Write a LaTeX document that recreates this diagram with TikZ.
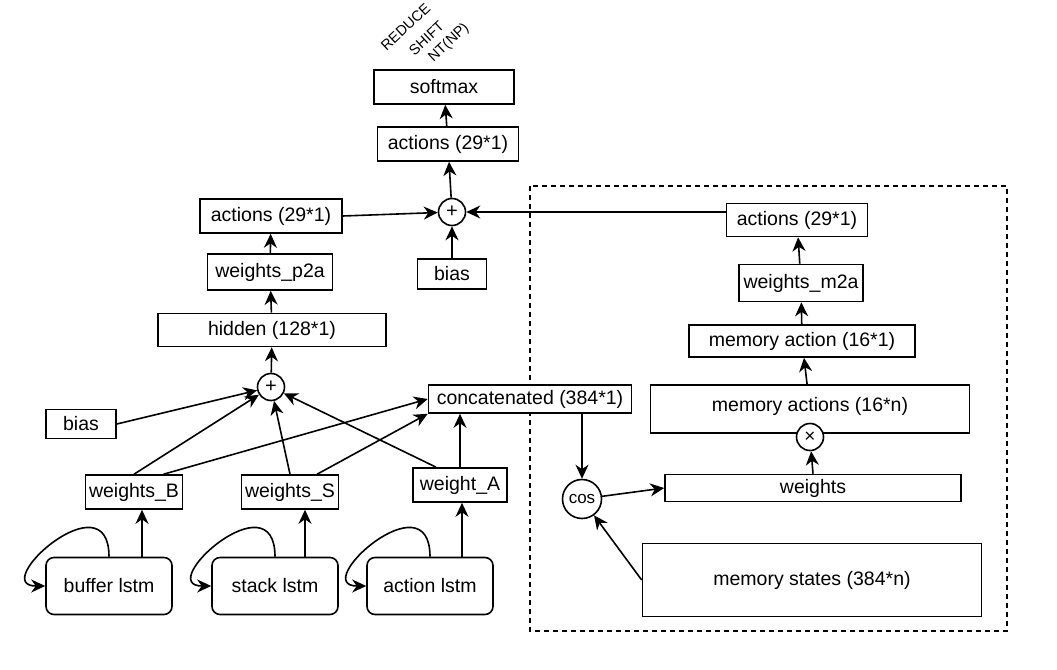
\documentclass[tikz,border=0pt]{standalone}
\usepackage{fontspec}
\setmainfont{Liberation Sans}
\usetikzlibrary{arrows.meta,calc}

\begin{document}
\begin{tikzpicture}[x=1pt,y=-1pt,line width=1.6pt,
  every node/.style={font=\fontsize{19.5}{23}\selectfont},
  blk/.style={draw,fill=white,inner sep=0pt,minimum height=34pt},
  opn/.style={draw,fill=white,circle,inner sep=0pt,font=\fontsize{16}{18}\selectfont},
  lstm/.style={draw,fill=white,rounded corners=8pt,minimum width=126pt,minimum height=57pt,inner sep=0pt},
  arr/.style={-{Stealth[length=14pt,width=13pt,inset=4.5pt]}},
  lbl/.style={font=\fontsize{14.5}{16}\selectfont,rotate=43,anchor=base west,inner sep=0pt}]
  \useasboundingbox (0,0) rectangle (1057,669);
  % memory part
  \draw[dash pattern=on 5pt off 4pt] (530,186) rectangle (1007,631);

  \node[lbl] at (386,52){REDUCE};
  \node[lbl] at (414,57){SHIFT};
  \node[lbl] at (433,63){NT(NP)};
  \node[blk,minimum width=140pt] (soft) at (444,87){softmax};
  \node[blk,minimum width=141pt] (actT) at (448,144){actions (29*1)};
  \node[opn,minimum size=27pt,font=\fontsize{20}{22}\selectfont] (plusT) at (452,212){+};
  \node[blk,minimum width=142pt] (actL) at (271,216){actions (29*1)};
  \node[blk,minimum width=69pt,minimum height=30pt] (biasT) at (452,274){bias};
  \node[blk,minimum width=125pt,minimum height=36pt] (wp2a) at (270,272){weights\_p2a};
  \node[blk,minimum width=228pt,minimum height=33pt] (hid) at (272,330){hidden (128*1)};
  \node[opn,minimum size=27pt,font=\fontsize{20}{22}\selectfont] (plusM) at (271,387){+};
  \node[blk,minimum width=70pt,minimum height=29pt] (biasL) at (81,424){bias};
  \node[blk,minimum width=97pt] (wB) at (134,492){weights\_B};
  \node[blk,minimum width=97pt] (wS) at (290,492){weights\_S};
  \node[blk,minimum width=94pt] (wA) at (460,485){weight\_A};
  \node[lstm] (buf) at (109,586){buffer lstm};
  \node[lstm] (stk) at (275,586){stack lstm};
  \node[lstm] (alstm) at (430,586){action lstm};

  \node[blk,minimum width=141pt,minimum height=33pt] (actR) at (797,220){actions (29*1)};
  \node[blk,minimum width=124pt,minimum height=37pt] (wm2a) at (801,283){weights\_m2a};
  \node[blk,minimum width=226pt,minimum height=32pt] (mact) at (802,341){memory action (16*1)};
  \node[blk,minimum width=319pt,minimum height=48pt,text depth=9pt] (macts) at (810,409){memory actions (16*n)};
  \node[opn,minimum size=27pt,font=\fontsize{19}{21}\selectfont] (times) at (810,437){×};
  \node[blk,minimum width=296pt,minimum height=27pt] (wts) at (813,488){weights};
  \node[opn,minimum size=39pt,font=\fontsize{17}{19}\selectfont] (cos) at (582,499){cos};
  \node[blk,minimum width=339pt,minimum height=73pt] (mst) at (812,580){memory states (384*n)};
  \node[blk,minimum width=203pt,minimum height=28pt] (cat) at (530,399){concatenated (384*1)};

  % arrows
  \draw[arr] (actT) -- (soft);
  \draw[arr] (plusT) -- (actT);
  \draw[arr] (actL.east) -- (plusT);
  \draw[arr] (biasT) -- (plusT);
  \draw[arr] (actR.west |- plusT) -- (plusT);
  \draw[arr] (wp2a) -- (actL);
  \draw[arr] (hid) -- (wp2a);
  \draw[arr] (plusM) -- (hid);
  \draw[arr] (biasL.east) -- (plusM);
  \draw[arr] (wB.north) -- (plusM);
  \draw[arr] ($(wB.north)!0.6!(wB.north east)$) -- (cat.west);
  \draw[arr] (wS.north) -- (plusM);
  \draw[arr] ($(wS.north)!0.55!(wS.north east)$) -- (cat.south west);
  \draw[arr] ($(wA.north)!0.5!(wA.north west)$) -- (plusM);
  \draw[arr] (wA.north) -- (wA.north |- cat.south);
  \draw[arr] ([xshift=33pt]buf.north) -- ([xshift=33pt]buf.north |- wB.south);
  \draw[arr] ([xshift=30pt]stk.north) -- ([xshift=30pt]stk.north |- wS.south);
  \draw[arr] ([xshift=32pt]alstm.north) -- ([xshift=32pt]alstm.north |- wA.south);
  \draw[arr] (buf.north) .. controls +(0,-80) and +(-58,0) .. (buf.west);
  \draw[arr] (stk.north) .. controls +(0,-80) and +(-58,0) .. (stk.west);
  \draw[arr] (alstm.north) .. controls +(0,-80) and +(-58,0) .. (alstm.west);

  \draw[arr] (cos |- cat.south) -- (cos);
  \draw[arr] (cos) -- (wts.west);
  \draw[arr] (mst.west) -- (cos);
  \draw[arr] (wts.north) -- (times);
  \draw[arr] (macts) -- (mact);
  \draw[arr] (mact) -- (wm2a);
  \draw[arr] (wm2a) -- (actR);
\end{tikzpicture}
\end{document}
